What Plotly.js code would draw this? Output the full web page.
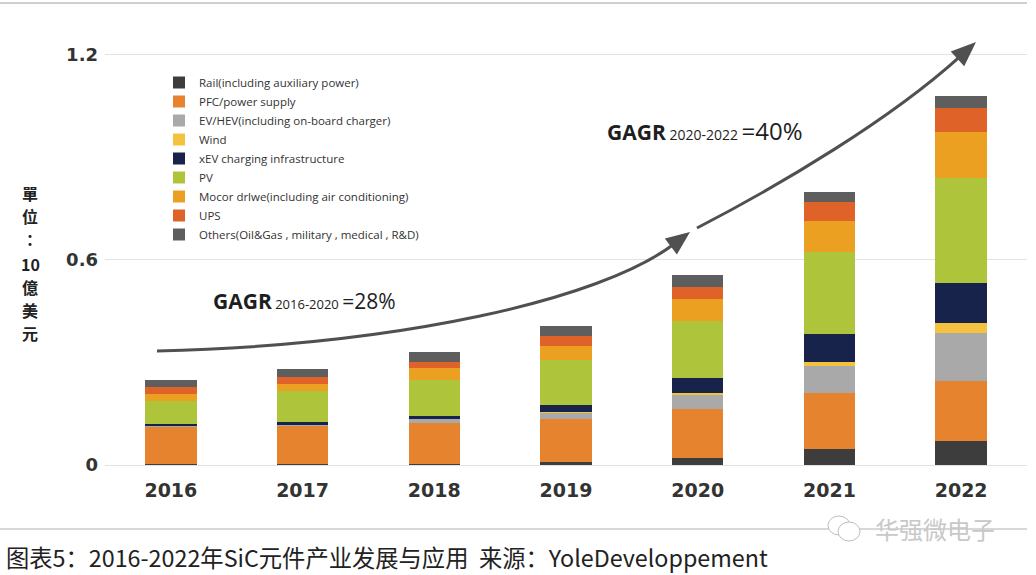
<!DOCTYPE html>
<html>
<head>
<meta charset="utf-8">
<script src="https://cdn.plot.ly/plotly-3.0.1.min.js"></script>
<style>html,body{margin:0;padding:0;background:#fff;}#chart{width:1036px;height:575px;}</style>
</head>
<body>
<div id="chart"></div>
<script>
// ---- data (values in billions USD) ----
const years = ['2016', '2017', '2018', '2019', '2020', '2021', '2022'];
const rail   = [0.003, 0.003, 0.004, 0.010, 0.021, 0.047, 0.070];
const pfc    = [0.108, 0.112, 0.120, 0.125, 0.144, 0.163, 0.175];
const evhev  = [0.002, 0.003, 0.010, 0.018, 0.039, 0.078, 0.142];
const wind   = [0.000, 0.000, 0.000, 0.003, 0.005, 0.013, 0.027];
const xev    = [0.008, 0.008, 0.010, 0.018, 0.046, 0.082, 0.119];
const pv     = [0.066, 0.090, 0.104, 0.133, 0.165, 0.239, 0.304];
const motor  = [0.021, 0.021, 0.034, 0.042, 0.064, 0.091, 0.136];
const ups    = [0.021, 0.019, 0.019, 0.029, 0.036, 0.055, 0.070];
const others = [0.019, 0.025, 0.029, 0.027, 0.034, 0.029, 0.035];

const seriesNames = [
  'Rail(including auxiliary power)',
  'PFC/power supply',
  'EV/HEV(including on-board charger)',
  'Wind',
  'xEV charging infrastructure',
  'PV',
  'Mocor drlwe(including air conditioning)',
  'UPS',
  'Others(Oil&Gas , military , medical , R&D)'
];
const seriesValues = [rail, pfc, evhev, wind, xev, pv, motor, ups, others];
const seriesColors = ['#3d3d3d', '#e6832e', '#a9a9a9', '#f4c23e', '#17234a', '#adc43b', '#eba022', '#df6229', '#5e5e5e'];
const yTicks = [0, 0.6, 1.2];
const yTickText = ['0', '0.6', '1.2'];
const yTitleChars = ['單', '位', '：', '10', '億', '美', '元'];

// ---- layout helpers (pixel -> paper) ----
const W = 1036, H = 575;
const M = {l: 105, r: 9, t: 20, b: 110};
const PW = W - M.l - M.r, PH = H - M.t - M.b;
const px = x => (x - M.l) / PW;
const py = y => (H - M.b - y) / PH;
const P = (x, y) => px(x).toFixed(5) + ',' + py(y).toFixed(5);

const traces = seriesNames.map((n, i) => ({
  type: 'bar',
  name: n,
  x: years,
  y: seriesValues[i],
  width: 0.39,
  marker: {color: seriesColors[i], line: {width: 0}},
  hoverinfo: 'name+y'
}));

function arrow(p0, c1, c2, tip, len, hw) {
  const dx = tip[0] - c2[0], dy = tip[1] - c2[1];
  const L = Math.hypot(dx, dy);
  const ux = dx / L, uy = dy / L;
  const bx = tip[0] - ux * len, by = tip[1] - uy * len;
  const qx = -uy, qy = ux;
  const curve = {
    type: 'path', xref: 'paper', yref: 'paper',
    path: 'M ' + P(p0[0], p0[1]) + ' C ' + P(c1[0], c1[1]) + ' ' + P(c2[0], c2[1]) + ' ' + P(bx + ux * 4, by + uy * 4),
    line: {color: '#505050', width: 3}
  };
  const head = {
    type: 'path', xref: 'paper', yref: 'paper',
    path: 'M ' + P(tip[0], tip[1]) + ' L ' + P(bx + qx * hw, by + qy * hw) + ' L ' + P(bx - qx * hw, by - qy * hw) + ' Z',
    fillcolor: '#505050', line: {width: 0}
  };
  return [curve, head];
}

const shapes = [
  {type: 'line', xref: 'paper', yref: 'paper', x0: px(0), x1: px(1027), y0: py(3), y1: py(3), line: {color: '#a0a0a0', width: 1}},
  {type: 'line', xref: 'paper', yref: 'paper', x0: px(0), x1: px(1027), y0: py(529), y1: py(529), line: {color: '#b0b0b0', width: 1}},
  {type: 'circle', xref: 'paper', yref: 'paper', x0: px(828), x1: px(850), y0: py(535), y1: py(516), line: {color: '#bdbdbd', width: 1}, fillcolor: 'rgba(255,255,255,1)'},
  {type: 'circle', xref: 'paper', yref: 'paper', x0: px(838), x1: px(860), y0: py(541), y1: py(522), line: {color: '#bdbdbd', width: 1}, fillcolor: 'rgba(255,255,255,1)'},
  ...arrow([157, 351], [400, 345], [600, 300], [690, 232], 24, 10),
  ...arrow([697, 228], [780, 185], [890, 120], [976, 42], 25, 10)
];

const annFont = {family: 'Open Sans, sans-serif', color: '#1e1e1e'};
const yTitleCenters = [193, 216, 239, 264, 287, 310, 333];
const annotations = yTitleChars.map((c, i) => ({
  xref: 'paper', yref: 'paper', x: px(30), y: py(yTitleCenters[i]), xanchor: 'center', yanchor: 'middle', showarrow: false,
  text: c, font: {family: 'Noto Sans CJK TC, sans-serif', size: 16, color: '#222', weight: 'bold'}
})).concat([
  {xref: 'paper', yref: 'paper', x: px(211), y: py(301), xanchor: 'left', yanchor: 'middle', showarrow: false,
   text: '<b>GAGR</b><span style="font-size:13px"> 2016-2020 </span>=28%',
   font: Object.assign({size: 21}, annFont)},
  {xref: 'paper', yref: 'paper', x: px(605), y: py(130), xanchor: 'left', yanchor: 'middle', showarrow: false,
   text: '<b>GAGR</b><span style="font-size:14px"> 2020-2022 </span><span style="font-size:24px">=40%</span>',
   font: Object.assign({size: 21}, annFont)},
  {xref: 'paper', yref: 'paper', x: px(4), y: py(557), xanchor: 'left', yanchor: 'middle', showarrow: false,
   text: '图表5：2016-2022年SiC元件产业发展与应用  来源：YoleDeveloppement',
   font: {family: 'Noto Sans CJK SC, sans-serif', size: 23.3, color: '#222'}},
  {xref: 'paper', yref: 'paper', x: px(873), y: py(528), xanchor: 'left', yanchor: 'middle', showarrow: false,
   text: '华强微电子',
   font: {family: 'Noto Sans CJK SC, sans-serif', size: 24, color: '#c8c8c8'}}
]);

const layout = {
  width: W, height: H,
  margin: M,
  paper_bgcolor: '#ffffff', plot_bgcolor: '#ffffff',
  barmode: 'stack',
  showlegend: true,
  legend: {
    x: px(159), y: py(68), xanchor: 'left', yanchor: 'top',
    traceorder: 'normal',
    font: {family: 'Open Sans, sans-serif', size: 11.5, color: '#333'},
    bgcolor: 'rgba(0,0,0,0)', borderwidth: 0,
    itemwidth: 30
  },
  xaxis: {
    type: 'category', range: [-0.5, 6.5],
    showgrid: false, zeroline: false, showline: false, ticks: '',
    tickfont: {family: 'DejaVu Sans, sans-serif', size: 19, color: '#333', weight: 'bold'},
    ticklabelstandoff: 12
  },
  yaxis: {
    range: [0, 1.3],
    tickvals: yTicks, ticktext: yTickText,
    showgrid: true, gridcolor: '#e2e2e2', gridwidth: 1,
    zeroline: true, zerolinecolor: '#e2e2e2', zerolinewidth: 1,
    showline: false, ticks: '',
    tickfont: {family: 'DejaVu Sans, sans-serif', size: 18, color: '#333', weight: 'bold'},
    ticklabelstandoff: 6
  },
  shapes: shapes,
  annotations: annotations
};

Plotly.newPlot('chart', traces, layout, {displayModeBar: false, staticPlot: true});
</script>
</body>
</html>
